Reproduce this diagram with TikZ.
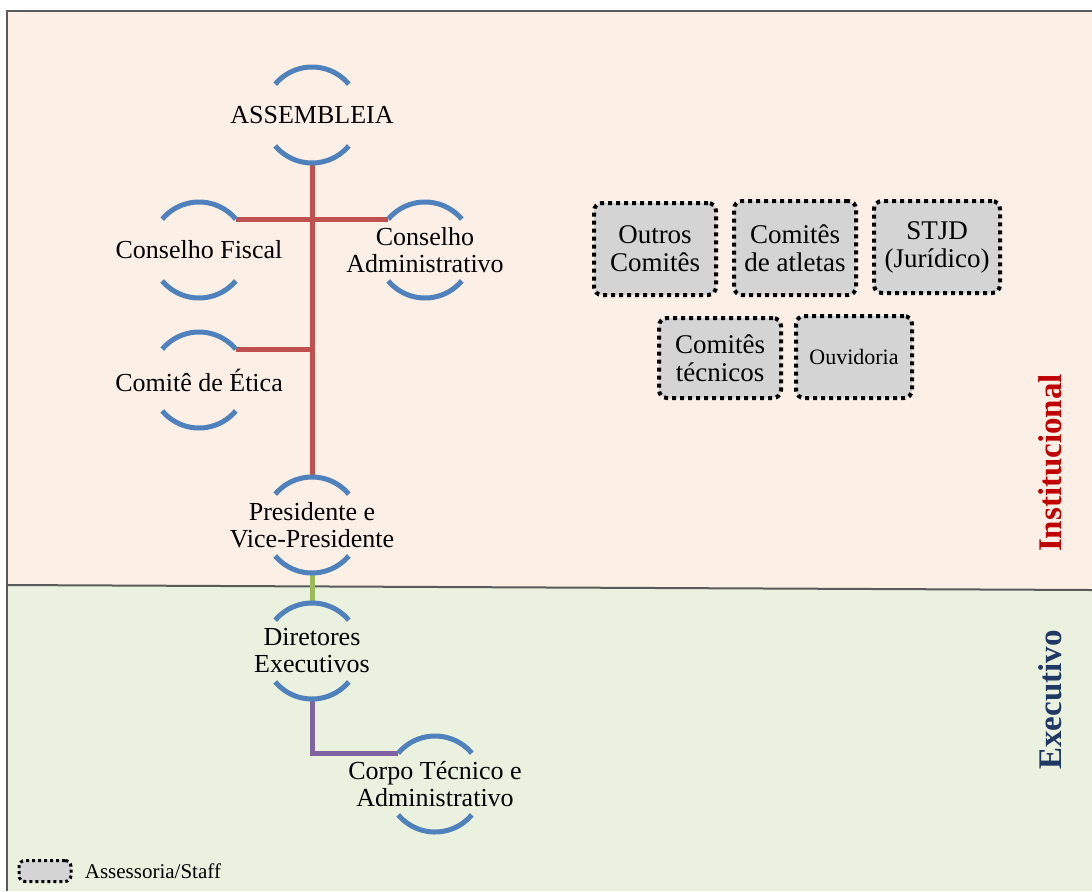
\documentclass[tikz,border=0pt]{standalone}
\usepackage{fontspec}
\setmainfont{Liberation Serif}
\usetikzlibrary{positioning}

\definecolor{peach}{HTML}{FCEFE5}
\definecolor{palegreen}{HTML}{EAF1DF}
\definecolor{framegray}{HTML}{5A5A5A}
\definecolor{arcblue}{HTML}{4F81BD}
\definecolor{linkred}{HTML}{C0504D}
\definecolor{linkgreen}{HTML}{9BBB59}
\definecolor{linkpurple}{HTML}{8064A2}
\definecolor{staffgray}{HTML}{D4D4D4}
\definecolor{instred}{HTML}{C00000}
\definecolor{execblue}{HTML}{1F3864}

\tikzset{
  unit/.style={circle, minimum size=48pt, inner sep=0pt, outer sep=0pt},
  unittext/.style={font=\fontsize{13}{13.5}\selectfont, align=center, inner sep=0pt},
  orgarc/.style={draw=arcblue, line width=2.5pt},
  link/.style={line width=2.5pt},
  staff/.style={draw=black, fill=staffgray, rounded corners=4pt, line width=2pt,
    dash pattern=on 2pt off 2pt, align=center, inner sep=0pt,
    font=\fontsize{13.5}{14}\selectfont},
  sidelabel/.style={rotate=90, font=\bfseries\fontsize{16.5}{18}\selectfont}
}

\begin{document}
\begin{tikzpicture}[x=0.5pt, y=0.5pt]
  \useasboundingbox (0,0) rectangle (1092,-891);

  % backgrounds
  \fill[peach] (7,-11) -- (1092,-11) -- (1092,-590) -- (7,-585) -- cycle;
  \fill[palegreen] (7,-585) -- (1092,-590) -- (1092,-891) -- (7,-891) -- cycle;
  \draw[framegray, line width=1pt] (7,-585) -- (1092,-590);
  \draw[framegray, line width=1.2pt] (7,-891) -- (7,-11) -- (1092,-11);

  % units
  \node[unit, label={[unittext]center:ASSEMBLEIA}] (asm) at (312,-115) {};
  \node[unit, label={[unittext]center:Conselho Fiscal}] (cf) at (199,-250) {};
  \node[unit, label={[unittext]center:{Conselho\\Administrativo}}] (ca) at (425,-250) {};
  \node[unit, label={[unittext]center:Comitê de Ética}] (ce) at (199,-380) {};
  \node[unit, label={[unittext]center:{Presidente e\\Vice-Presidente}}] (pres) at (312,-525) {};
  \node[unit, label={[unittext]center:{Diretores\\Executivos}}] (dir) at (312,-651) {};
  \node[unit, label={[unittext]center:{Corpo Técnico e\\Administrativo}}] (corpo) at (435,-784) {};

  % links
  \begin{scope}[link]
    \draw[linkred] (asm.south) -- (pres.north);
    \draw[linkred] (cf.40) -- (ca.140);
    \draw[linkred] (ce.40) -- (ce.40 -| asm.south);
    \draw[linkgreen] (pres.south) -- (dir.north);
    \draw[linkpurple] (dir.south) |- (corpo.140);
  \end{scope}

  \foreach \n in {asm,cf,ca,ce,pres,dir,corpo} {
    \draw[orgarc] (\n.40) arc (40:140:24pt);
    \draw[orgarc] (\n.220) arc (220:320:24pt);
  }

  % staff
  \node[staff, minimum width=61pt, minimum height=46pt] (outros) at (655,-249) {Outros\\Comitês};
  \node[staff, minimum width=61pt, minimum height=47pt] (atletas) at (795,-248) {Comitês\\de atletas};
  \node[staff, minimum width=63pt, minimum height=46pt] (stjd) at (937,-247) {STJD\\(Jurídico)};
  \node[staff, minimum width=61pt, minimum height=40pt] (tecnicos) at (720,-358) {Comitês\\técnicos};
  \node[staff, minimum width=58pt, minimum height=41pt, font=\fontsize{11}{13}\selectfont] (ouvidoria) at (854,-357) {Ouvidoria};

  \node[sidelabel, text=instred] (inst) at (1050,-463) {Institucional};
  \node[sidelabel, text=execblue] (exec) at (1050,-700) {Executivo};

  % legend
  \node[staff, minimum width=26pt, minimum height=10.5pt, line width=1.5pt,
    dash pattern=on 1.5pt off 1.5pt, rounded corners=3pt] (legbox) at (45,-871) {};
  \node[right=6pt of legbox, inner sep=0pt, font=\fontsize{10.5}{12}\selectfont] (legtext) {Assessoria/Staff};
\end{tikzpicture}
\end{document}
